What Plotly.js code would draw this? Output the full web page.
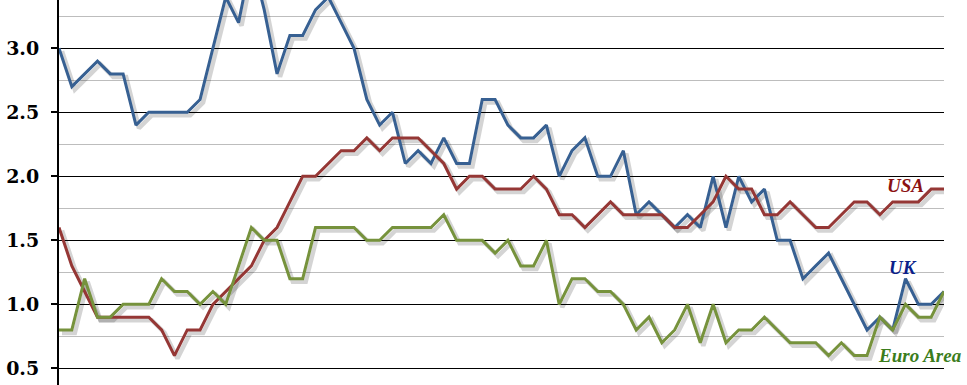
<!DOCTYPE html>
<html><head><meta charset="utf-8">
<script src="https://cdn.plot.ly/plotly-3.0.1.min.js"></script>
<style>html,body{margin:0;padding:0;background:#fff}#chart{width:967px;height:385px}</style>
</head><body><div id="chart"></div>
<script>
const months = [
 "Jan-10","Feb-10","Mar-10","Apr-10","May-10","Jun-10","Jul-10","Aug-10","Sep-10","Oct-10","Nov-10","Dec-10",
 "Jan-11","Feb-11","Mar-11","Apr-11","May-11","Jun-11","Jul-11","Aug-11","Sep-11","Oct-11","Nov-11","Dec-11",
 "Jan-12","Feb-12","Mar-12","Apr-12","May-12","Jun-12","Jul-12","Aug-12","Sep-12","Oct-12","Nov-12","Dec-12",
 "Jan-13","Feb-13","Mar-13","Apr-13","May-13","Jun-13","Jul-13","Aug-13","Sep-13","Oct-13","Nov-13","Dec-13",
 "Jan-14","Feb-14","Mar-14","Apr-14","May-14","Jun-14","Jul-14","Aug-14","Sep-14","Oct-14","Nov-14","Dec-14",
 "Jan-15","Feb-15","Mar-15","Apr-15","May-15","Jun-15","Jul-15","Aug-15","Sep-15","Oct-15"];
const uk = [3.0,2.7,2.8,2.9,2.8,2.8,2.4,2.5,2.5,2.5,2.5,2.6,
 3.0,3.4,3.2,3.7,3.3,2.8,3.1,3.1,3.3,3.4,3.2,3.0,
 2.6,2.4,2.5,2.1,2.2,2.1,2.3,2.1,2.1,2.6,2.6,2.4,
 2.3,2.3,2.4,2.0,2.2,2.3,2.0,2.0,2.2,1.7,1.8,1.7,
 1.6,1.7,1.6,2.0,1.6,2.0,1.8,1.9,1.5,1.5,1.2,1.3,
 1.4,1.2,1.0,0.8,0.9,0.8,1.2,1.0,1.0,1.1];
const usa = [1.6,1.3,1.1,0.9,0.9,0.9,0.9,0.9,0.8,0.6,0.8,0.8,
 1.0,1.1,1.2,1.3,1.5,1.6,1.8,2.0,2.0,2.1,2.2,2.2,
 2.3,2.2,2.3,2.3,2.3,2.2,2.1,1.9,2.0,2.0,1.9,1.9,
 1.9,2.0,1.9,1.7,1.7,1.6,1.7,1.8,1.7,1.7,1.7,1.7,
 1.6,1.6,1.7,1.8,2.0,1.9,1.9,1.7,1.7,1.8,1.7,1.6,
 1.6,1.7,1.8,1.8,1.7,1.8,1.8,1.8,1.9,1.9];
const euroArea = [0.8,0.8,1.2,0.9,0.9,1.0,1.0,1.0,1.2,1.1,1.1,1.0,
 1.1,1.0,1.3,1.6,1.5,1.5,1.2,1.2,1.6,1.6,1.6,1.6,
 1.5,1.5,1.6,1.6,1.6,1.6,1.7,1.5,1.5,1.5,1.4,1.5,
 1.3,1.3,1.5,1.0,1.2,1.2,1.1,1.1,1.0,0.8,0.9,0.7,
 0.8,1.0,0.7,1.0,0.7,0.8,0.8,0.9,0.8,0.7,0.7,0.7,
 0.6,0.7,0.6,0.6,0.9,0.8,1.0,0.9,0.9,1.1];
const seriesNames = ["UK","USA","Euro Area"];
const yTickVals = [0.5,1.0,1.5,2.0,2.5,3.0];
const yTickText = ["0.5","1.0","1.5","2.0","2.5","3.0"];
const yMinorVals = [0.75,1.25,1.75,2.25,2.75,3.25];

const W = 967, H = 385, L = 59, R = 23;
const yMin = 0.37, yMax = 3.377;
const nPts = months.length;
const pxPerCat = (W - L - R) / (nPts - 1);
const pxPerUnit = H / (yMax - yMin);
const sh = 3; // shadow offset in px

const colors = ["#376092", "#953735", "#76923C"];
const labelColors = ["#0b1f8a", "#8b1212", "#3b7d1c"];
const data = [uk, usa, euroArea];

const traces = [{x: [], y: [], type: 'scatter', mode: 'lines', xaxis: 'x', yaxis: 'y', hoverinfo: 'skip'}];
data.forEach((d, i) => traces.push({
  x: months, y: d, type: 'scatter', mode: 'lines', xaxis: 'x2', yaxis: 'y2',
  line: {color: 'rgba(0,0,0,0.17)', width: 4.5}, hoverinfo: 'skip', name: seriesNames[i] + ' shadow'
}));
data.forEach((d, i) => traces.push({
  x: months, y: d, type: 'scatter', mode: 'lines', xaxis: 'x3', yaxis: 'y3',
  line: {color: colors[i], width: 3}, name: seriesNames[i]
}));

const hidX = (shift) => ({type: 'category', categoryarray: months, range: [0 - shift / pxPerCat, nPts - 1 - shift / pxPerCat], visible: false, fixedrange: true});
const hidY = (shift) => ({range: [yMin + shift / pxPerUnit, yMax + shift / pxPerUnit], visible: false, fixedrange: true});

const layout = {
  width: W, height: H,
  margin: {l: L, r: R, t: 0, b: 0, pad: 0},
  paper_bgcolor: '#ffffff', plot_bgcolor: 'rgba(0,0,0,0)',
  showlegend: false,
  xaxis: {type: 'category', categoryarray: months, range: [0, nPts - 1], showgrid: false, showline: false,
    showticklabels: false, ticks: '', zeroline: false, fixedrange: true, anchor: 'y'},
  yaxis: {range: [yMin, yMax], tickmode: 'array', tickvals: yTickVals, ticktext: yTickText,
    showgrid: true, gridcolor: '#000000', gridwidth: 1.2, zeroline: false,
    showline: true, linecolor: '#000000', linewidth: 2,
    ticks: 'outside', ticklen: 6, tickwidth: 2, tickcolor: '#000000', ticklabelstandoff: 8,
    tickfont: {family: 'DejaVu Serif', size: 19, color: '#000000', weight: 'bold'},
    minor: {tickmode: 'array', tickvals: yMinorVals, showgrid: true, gridcolor: '#bdbdbd', gridwidth: 1, ticks: ''},
    fixedrange: true, anchor: 'x'},
  xaxis2: Object.assign(hidX(sh), {anchor: 'y2'}),
  yaxis2: Object.assign(hidY(sh), {anchor: 'x2'}),
  xaxis3: Object.assign(hidX(0), {anchor: 'y3'}),
  yaxis3: Object.assign(hidY(0), {anchor: 'x3'}),
  annotations: [
    {text: 'USA', xref: 'paper', yref: 'paper', x: (905 - L) / (W - L - R), y: 1 - 186 / H, xanchor: 'center', yanchor: 'middle', showarrow: false,
     font: {family: 'Liberation Serif', size: 19, color: labelColors[1], weight: 'bold', style: 'italic'}},
    {text: 'UK', xref: 'paper', yref: 'paper', x: (903 - L) / (W - L - R), y: 1 - 267 / H, xanchor: 'center', yanchor: 'middle', showarrow: false,
     font: {family: 'Liberation Serif', size: 19, color: labelColors[0], weight: 'bold', style: 'italic'}},
    {text: 'Euro Area', xref: 'paper', yref: 'paper', x: (920 - L) / (W - L - R), y: 1 - 355 / H, xanchor: 'center', yanchor: 'middle', showarrow: false,
     font: {family: 'Liberation Serif', size: 19, color: labelColors[2], weight: 'bold', style: 'italic'}}
  ]
};

Plotly.newPlot('chart', traces, layout, {displayModeBar: false, staticPlot: true});
</script>
</body></html>
